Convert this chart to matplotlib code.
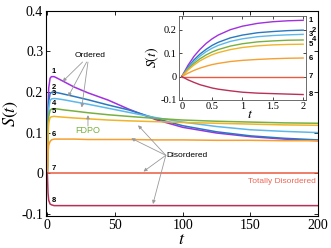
import matplotlib
matplotlib.use("Agg")
import matplotlib.pyplot as plt

plt.rcParams['font.family'] = ['Liberation Serif', 'DejaVu Serif']
plt.rcParams['mathtext.fontset'] = 'stix'

# main panel: long-time behaviour
t_main = [0, 0.5, 1, 2, 3, 5, 8, 12, 20, 30, 45, 60, 80, 100, 125, 150, 175, 200]
s1 = [0, 0.158, 0.210, 0.234, 0.238, 0.238, 0.233, 0.226, 0.212, 0.198, 0.180, 0.158, 0.132, 0.113, 0.099, 0.090, 0.084, 0.080]
s2 = [0, 0.133, 0.177, 0.196, 0.199, 0.200, 0.198, 0.195, 0.189, 0.181, 0.168, 0.156, 0.135, 0.117, 0.102, 0.092, 0.086, 0.082]
s3 = [0, 0.121, 0.161, 0.179, 0.183, 0.184, 0.183, 0.181, 0.176, 0.170, 0.160, 0.150, 0.137, 0.126, 0.115, 0.107, 0.103, 0.100]
s4 = [0, 0.105, 0.140, 0.155, 0.158, 0.159, 0.158, 0.156, 0.153, 0.149, 0.144, 0.140, 0.135, 0.131, 0.128, 0.126, 0.124, 0.123]
s5 = [0, 0.093, 0.124, 0.137, 0.139, 0.140, 0.139, 0.138, 0.136, 0.134, 0.131, 0.129, 0.127, 0.125, 0.123, 0.121, 0.119, 0.118]
s6 = [0, 0.051, 0.069, 0.078, 0.082, 0.084, 0.084, 0.084, 0.084, 0.083, 0.083, 0.083, 0.082, 0.082, 0.081, 0.081, 0.080, 0.080]
s7 = [0] * len(t_main)
s8 = [0, -0.049, -0.067, -0.076, -0.078, -0.080, -0.080, -0.080, -0.080, -0.080, -0.080, -0.080, -0.080, -0.080, -0.080, -0.080, -0.080, -0.080]

# inset: short-time behaviour
t_in = [0, 0.1, 0.2, 0.3, 0.4, 0.5, 0.6, 0.8, 1.0, 1.25, 1.5, 1.75, 2.0]
i1 = [0, 0.047, 0.086, 0.116, 0.141, 0.161, 0.177, 0.200, 0.215, 0.227, 0.234, 0.238, 0.240]
i2 = [0, 0.039, 0.071, 0.096, 0.116, 0.133, 0.146, 0.165, 0.177, 0.187, 0.192, 0.196, 0.198]
i3 = [0, 0.035, 0.064, 0.087, 0.106, 0.121, 0.133, 0.150, 0.161, 0.170, 0.175, 0.178, 0.180]
i4 = [0, 0.031, 0.056, 0.076, 0.092, 0.105, 0.115, 0.130, 0.140, 0.148, 0.152, 0.155, 0.156]
i5 = [0, 0.027, 0.049, 0.067, 0.081, 0.093, 0.102, 0.115, 0.124, 0.131, 0.135, 0.137, 0.138]
i6 = [0, 0.014, 0.026, 0.036, 0.044, 0.051, 0.056, 0.064, 0.069, 0.073, 0.076, 0.078, 0.079]
i7 = [0] * len(t_in)
i8 = [0, -0.014, -0.025, -0.035, -0.042, -0.049, -0.054, -0.061, -0.067, -0.071, -0.073, -0.075, -0.077]

labels = ['1', '2', '3', '4', '5', '6', '7', '8']
colors = ['#a030e0', '#2a78c0', '#5cb8ea', '#78b040', '#f0b428', '#f5a030', '#ea5a40', '#b83058']

main_series = [s1, s2, s3, s4, s5, s6, s7, s8]
inset_series = [i1, i2, i3, i4, i5, i6, i7, i8]

fig = plt.figure(figsize=(3.31, 2.48), dpi=100)
ax = fig.add_axes([0.139, 0.130, 0.822, 0.826])

for s, c in zip(main_series, colors):
    ax.plot(t_main, s, color=c, lw=1.1)

ax.set_xlim(-1, 200)
ax.set_ylim(-0.105, 0.4)
ax.set_xticks([0, 50, 100, 150, 200])
ax.set_yticks([-0.1, 0, 0.1, 0.2, 0.3, 0.4])
ax.set_yticklabels(['-0.1', '0', '0.1', '0.2', '0.3', '0.4'])
ax.tick_params(direction='in', top=True, right=True, labelsize=10, length=3, width=0.6, pad=2)
ax.set_xlabel('$t$', fontsize=13)
ax.xaxis.set_label_coords(0.5, -0.075)
ax.set_ylabel('$S(t)$', fontsize=13)
ax.yaxis.set_label_coords(-0.095, 0.5)

# curve numbers near the start
for lab, s in zip(labels, main_series):
    ax.text(4.6, s[5] + 0.012, lab, fontsize=5.5, fontweight='bold',
            family='Liberation Sans', ha='center', va='center')

arrow = dict(arrowstyle='-|>', color='#9a9a9a', lw=0.6, mutation_scale=5, shrinkA=0, shrinkB=0)
ann_font = dict(family='Liberation Sans', fontsize=6)

ax.text(31.5, 0.291, 'Ordered', ha='center', va='center', **ann_font)
ax.annotate('', xy=(11.3, 0.226), xytext=(26, 0.274), arrowprops=arrow)
ax.annotate('', xy=(15.4, 0.189), xytext=(29, 0.274), arrowprops=arrow)
ax.annotate('', xy=(25.4, 0.162), xytext=(30, 0.274), arrowprops=arrow)

ax.text(30, 0.104, 'FDPO', ha='center', va='center', color='#78b040',
        family='Liberation Sans', fontsize=6.5)
ax.annotate('', xy=(30, 0.143), xytext=(30, 0.116), arrowprops=arrow)

ax.text(88, 0.044, 'Disordered', ha='left', va='center', **ann_font)
for tip in [(67, 0.118), (62, 0.086), (71, 0.004), (78, -0.076)]:
    ax.annotate('', xy=tip, xytext=(87.5, 0.044), arrowprops=arrow)

ax.text(173, -0.021, 'Totally Disordered', ha='center', va='center',
        color='#ee6655', family='Liberation Sans', fontsize=6)

# inset
axi = fig.add_axes([0.541, 0.597, 0.384, 0.340])
for s, c in zip(inset_series, colors):
    axi.plot(t_in, s, color=c, lw=1.0)
axi.set_xlim(-0.045, 2.05)
axi.set_ylim(-0.1, 0.26)
axi.set_xticks([0, 0.5, 1, 1.5, 2])
axi.set_xticklabels(['0', '0.5', '1', '1.5', '2'])
axi.set_yticks([-0.1, 0, 0.1, 0.2])
axi.set_yticklabels(['-0.1', '0', '0.1', '0.2'])
axi.tick_params(direction='in', top=True, right=True, labelsize=7.5, length=2, width=0.5, pad=1.5)
axi.set_xlabel('$t$', fontsize=10)
axi.xaxis.set_label_coords(0.56, -0.1)
axi.set_ylabel('$S(t)$', fontsize=10, labelpad=0)
for sp in axi.spines.values():
    sp.set_color('#555555')
    sp.set_linewidth(0.6)

for lab, s in zip(labels, inset_series):
    dx = 2.15 if lab in ('2', '4') else 2.09
    axi.text(dx, s[-1], lab, fontsize=5.5, fontweight='bold',
             family='Liberation Sans', ha='left', va='center', clip_on=False)

fig.savefig('out.png', dpi=100)
